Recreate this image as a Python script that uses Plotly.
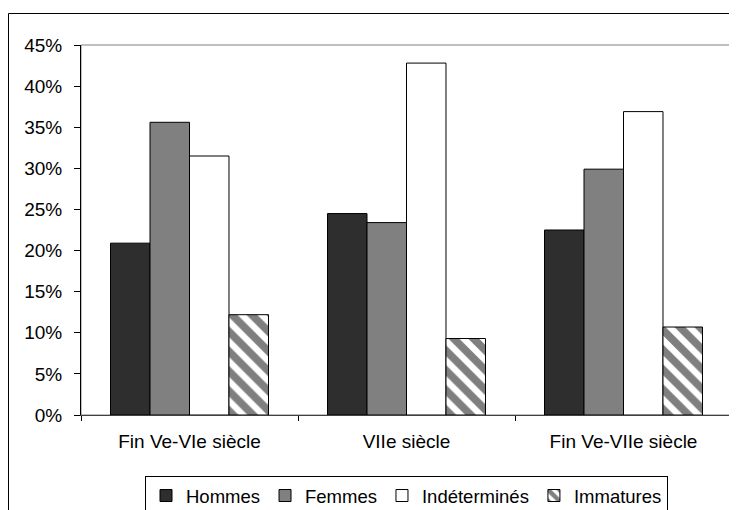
import plotly.graph_objects as go

categories = ["Fin Ve-VIe siècle", "VIIe siècle", "Fin Ve-VIIe siècle"]
series_names = ["Hommes", "Femmes", "Indéterminés", "Immatures"]
hommes = [0.209, 0.245, 0.225]
femmes = [0.356, 0.234, 0.299]
indetermines = [0.315, 0.428, 0.369]
immatures = [0.122, 0.093, 0.107]
y_ticks = [0, 0.05, 0.10, 0.15, 0.20, 0.25, 0.30, 0.35, 0.40, 0.45]

# page has an 8px body margin, so the figure sits at (8, 8)
W, H = 729, 502
L, R, T, B = 73, 5, 37, 95
pw, ph = W - L - R, H - T - B

def px_x(p):
    return (p - L) / pw

def px_y(p):
    return (H - B - p) / ph

font = dict(family="Liberation Sans, Arial, sans-serif", size=19, color="black")
legend_font = dict(family="Liberation Sans, Arial, sans-serif", size=18.5, color="black")
outline = dict(color="black", width=1)

fig = go.Figure()
fig.add_trace(go.Bar(name=series_names[0], x=categories, y=hommes,
                     marker=dict(color="#2e2e2e", line=outline)))
fig.add_trace(go.Bar(name=series_names[1], x=categories, y=femmes,
                     marker=dict(color="#808080", line=outline)))
fig.add_trace(go.Bar(name=series_names[2], x=categories, y=indetermines,
                     marker=dict(color="white", line=outline)))
fig.add_trace(go.Bar(name=series_names[3], x=categories, y=immatures,
                     marker=dict(color="white", line=outline,
                                 pattern=dict(shape="\\", fgcolor="black", bgcolor="white",
                                              size=14, solidity=0.55))))

fig.update_layout(
    width=W, height=H,
    margin=dict(l=L, r=R, t=T, b=B, autoexpand=False),
    paper_bgcolor="white", plot_bgcolor="white",
    font=font,
    barmode="group", bargap=0.272, bargroupgap=0,
    hovermode=False,
    showlegend=True,
    legend=dict(orientation="h", x=px_x(398.5), xanchor="center",
                y=px_y(468), yanchor="top", itemwidth=30,
                bordercolor="black", borderwidth=1, bgcolor="white",
                font=legend_font, traceorder="normal"),
    xaxis=dict(showline=True, linecolor="#404040", linewidth=1,
               ticks="outside", ticklen=5, tickcolor="black", tickson="boundaries",
               showgrid=False, ticklabelstandoff=9, tickfont=font),
    yaxis=dict(range=[0, 0.45], tickvals=y_ticks, tickformat=".0%",
               showline=True, linecolor="black", linewidth=1,
               ticks="outside", ticklen=6, tickcolor="black",
               showgrid=False, zeroline=False, ticklabelstandoff=8, tickfont=font),
    shapes=[
        dict(type="rect", xref="paper", yref="paper", x0=0, x1=1, y0=0, y1=1,
             line=dict(color="#808080", width=1), layer="below"),
        dict(type="rect", xref="paper", yref="paper",
             x0=px_x(0.5), x1=px_x(745), y0=px_y(520), y1=px_y(5.5),
             line=dict(color="black", width=1), layer="below"),
    ],
)

fig.write_html("out.html")
